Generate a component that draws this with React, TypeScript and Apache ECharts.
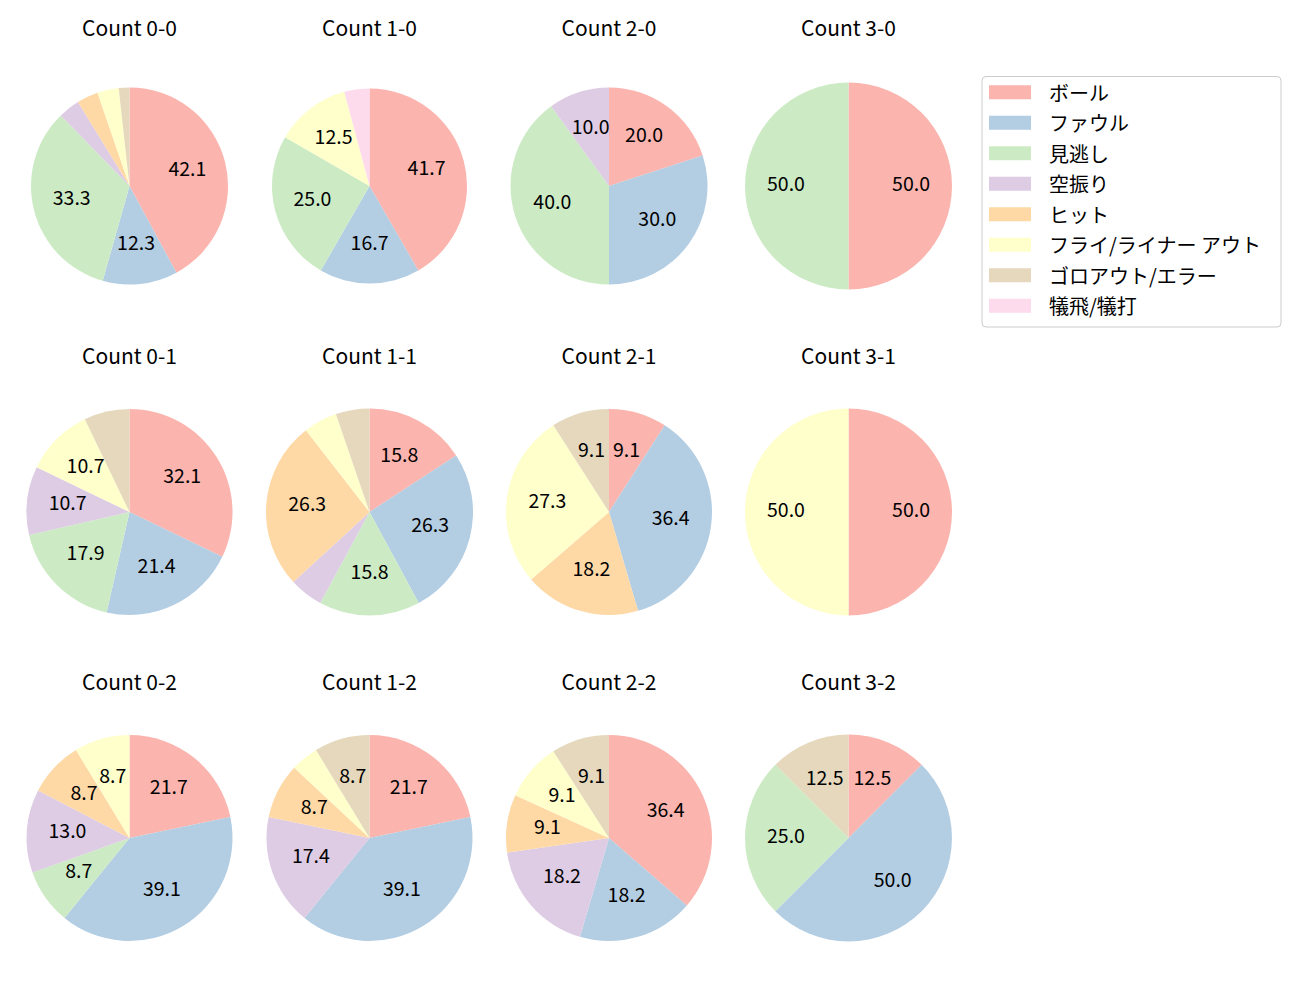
import React, { useEffect, useRef } from "react";
import * as echarts from "echarts";

// Categories (legend order) and Pastel1 colours
const categories = [
  "ボール",
  "ファウル",
  "見逃し",
  "空振り",
  "ヒット",
  "フライ/ライナー アウト",
  "ゴロアウト/エラー",
  "犠飛/犠打",
];
const colors = ["#fbb4ae", "#b3cde3", "#ccebc5", "#decbe4", "#fed9a6", "#ffffcc", "#e5d8bd", "#fddaec"];

const pieTitles = [
  "Count 0-0", "Count 1-0", "Count 2-0", "Count 3-0",
  "Count 0-1", "Count 1-1", "Count 2-1", "Count 3-1",
  "Count 0-2", "Count 1-2", "Count 2-2", "Count 3-2",
];

// pitch counts per category (same order as categories)
const count00 = [24, 7, 19, 2, 2, 2, 1, 0];
const count10 = [10, 4, 6, 0, 0, 3, 0, 1];
const count20 = [2, 3, 4, 1, 0, 0, 0, 0];
const count30 = [1, 0, 1, 0, 0, 0, 0, 0];
const count01 = [9, 6, 5, 3, 0, 3, 2, 0];
const count11 = [3, 5, 3, 1, 5, 1, 1, 0];
const count21 = [1, 4, 0, 0, 2, 3, 1, 0];
const count31 = [1, 0, 0, 0, 0, 1, 0, 0];
const count02 = [5, 9, 2, 3, 2, 2, 0, 0];
const count12 = [5, 9, 0, 4, 2, 1, 2, 0];
const count22 = [4, 2, 0, 2, 1, 1, 1, 0];
const count32 = [1, 4, 2, 0, 0, 0, 1, 0];

const pieCounts = [
  count00, count10, count20, count30,
  count01, count11, count21, count31,
  count02, count12, count22, count32,
];

// layout (pixels)
const colX = [129.5, 369.5, 609, 848.5];
const rowY = [186, 512, 838];
const titleY = [28.5, 356, 682.5];
const radii = [98.5, 97.5, 98.5, 103.5, 103, 103.5, 103, 103.5, 103, 103, 103, 103.5];
const LABEL_SHIFT_Y = -4;

const FONT = "'Noto Sans CJK JP', 'Noto Sans', sans-serif";
const LABEL_FS = 19.5;
const TITLE_FS = 21;
const LEGEND_FS = 20;

export default function App() {
  const ref = useRef<HTMLDivElement>(null);

  useEffect(() => {
    document.body.style.margin = "0";
    if (!ref.current) return;
    const chart = echarts.init(ref.current, undefined, { renderer: "svg" });

    const series: any[] = [];
    const titles: any[] = [];
    pieCounts.forEach((counts, i) => {
      const cx = colX[i % 4];
      const cy = rowY[Math.floor(i / 4)];
      const r = radii[i];
      const total = counts.reduce((a, b) => a + b, 0);
      const items = categories
        .map((name, k) => ({ name, value: counts[k], k }))
        .filter((d) => d.value > 0);

      series.push({
        type: "pie",
        center: [cx, cy],
        radius: [0, r],
        startAngle: 90,
        clockwise: true,
        avoidLabelOverlap: false,
        silent: true,
        label: { show: false },
        labelLine: { show: false },
        itemStyle: { borderWidth: 0 },
        data: items.map((d) => ({ name: d.name, value: d.value, itemStyle: { color: colors[d.k] } })),
      });
      series.push({
        type: "pie",
        center: [cx, cy + LABEL_SHIFT_Y],
        radius: [0.15 * r, r],
        startAngle: 90,
        clockwise: true,
        avoidLabelOverlap: false,
        silent: true,
        labelLine: { show: false },
        itemStyle: { color: "rgba(0,0,0,0)", borderWidth: 0 },
        label: {
          show: true,
          position: "inside",
          color: "#000",
          fontFamily: FONT,
          fontSize: LABEL_FS,
          formatter: (p: any) => {
            const pct = (p.value / total) * 100;
            return pct >= 8 ? pct.toFixed(1) : "";
          },
        },
        data: items.map((d) => ({ name: d.name + "#label", value: d.value })),
      });
      titles.push({
        text: pieTitles[i],
        left: cx,
        top: titleY[Math.floor(i / 4)] - 12,
        textAlign: "center",
        padding: 0,
        textStyle: { fontFamily: FONT, fontSize: TITLE_FS, fontWeight: "normal", color: "#000" },
      });
    });

    chart.setOption({
      animation: false,
      backgroundColor: "#fff",
      title: titles,
      legend: {
        orient: "vertical",
        left: 989,
        top: 82.3,
        padding: 0,
        itemWidth: 42,
        itemHeight: 14,
        itemGap: 10.5,
        icon: "rect",
        selectedMode: false,
        data: categories,
        textStyle: { fontFamily: FONT, fontSize: LEGEND_FS, color: "#000", lineHeight: 20, padding: [0, 0, 0, 13] },
      },
      graphic: [
        {
          type: "rect",
          z: -1,
          shape: { x: 982, y: 76.5, width: 299, height: 250.5, r: 4 },
          style: { fill: "rgba(255,255,255,0.8)", stroke: "#cccccc", lineWidth: 1 },
        },
      ],
      series,
    });

    return () => chart.dispose();
  }, []);

  return (
    <div
      ref={ref}
      style={{ position: "absolute", left: 0, top: 0, width: 1300, height: 1000 }}
    />
  );
}
